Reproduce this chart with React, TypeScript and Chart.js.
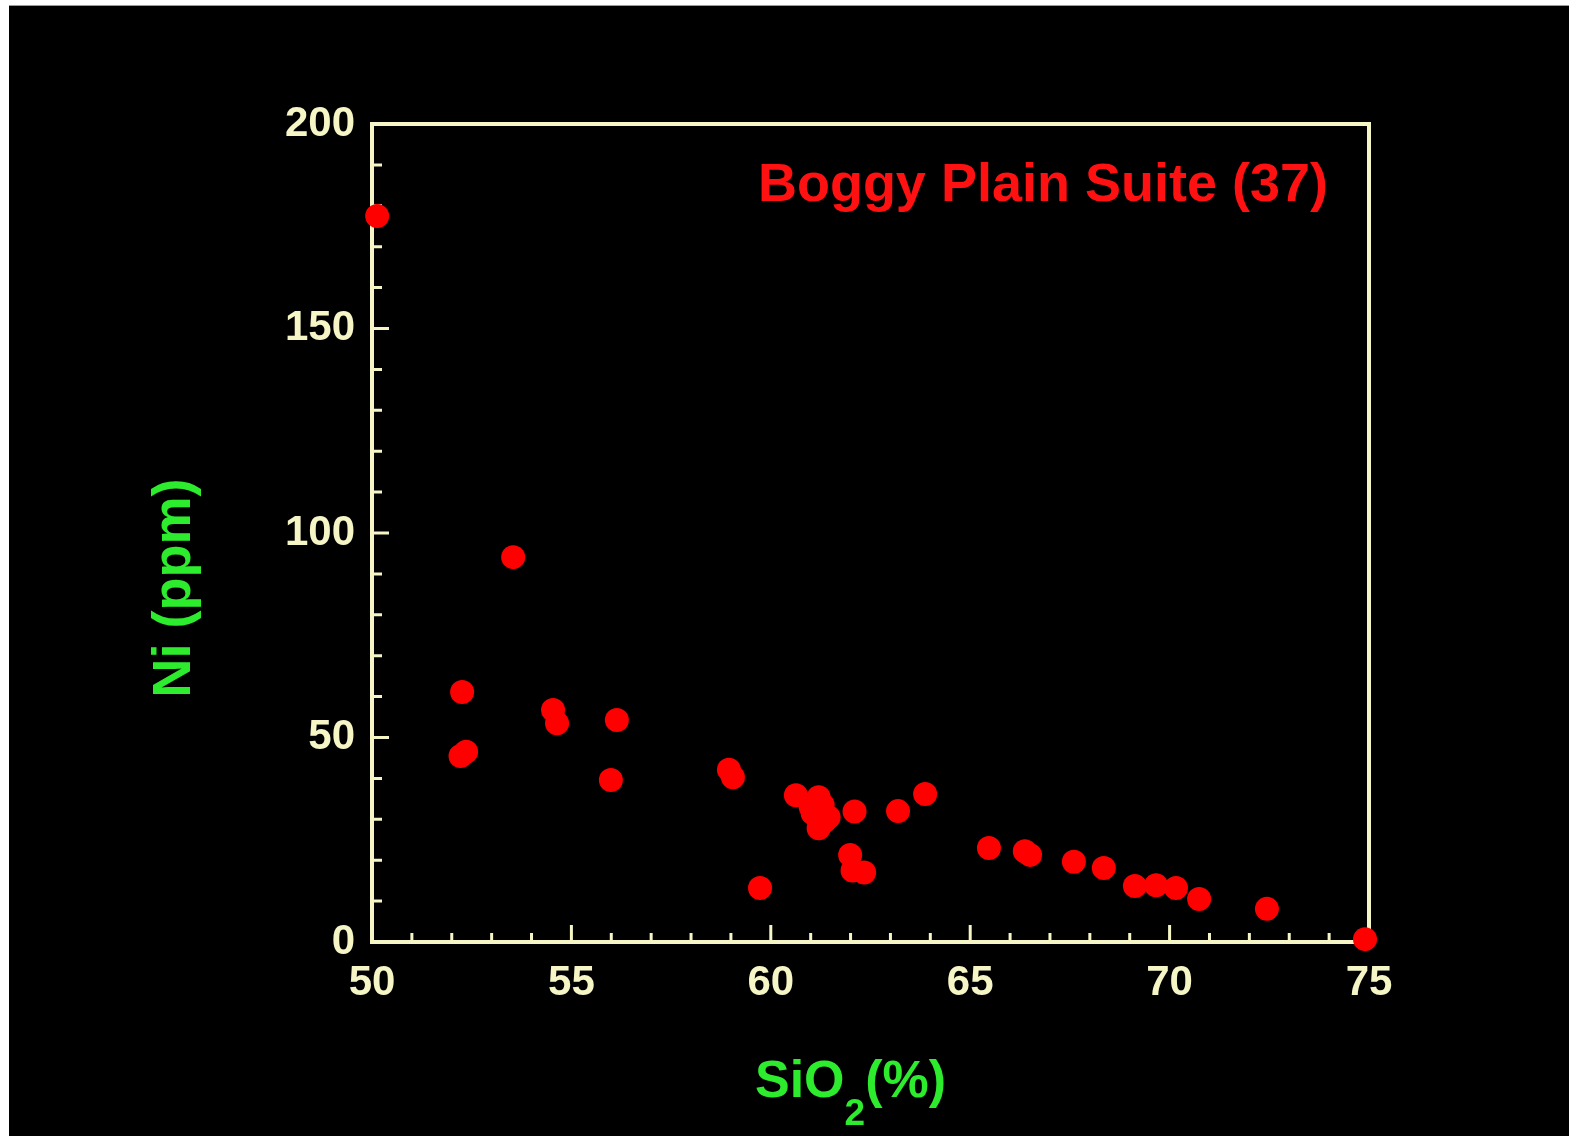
import React, { useEffect, useRef } from "react";
import { Chart, registerables } from "chart.js";

Chart.register(...registerables);

// SiO2 (%) values
const sio2: number[] = [
  50.13, 53.54, 52.26, 52.22, 52.36, 54.54, 54.64, 56.14, 55.99, 58.95,
  59.05, 59.73, 60.63, 61.2, 61.05, 61.45, 61.2, 61.3, 61.0, 61.35,
  62.1, 61.99, 62.05, 62.34, 63.19, 63.87, 65.47, 66.37, 66.5, 67.6,
  68.35, 69.13, 69.66, 70.16, 70.74, 72.44, 74.9,
];
// Ni (ppm) values
const ni: number[] = [
  177.5, 94.1, 61.1, 45.5, 46.5, 56.7, 53.5, 54.3, 39.6, 42.1,
  40.3, 13.2, 35.9, 35.4, 31.5, 30.5, 27.8, 33.5, 33.0, 29.5,
  31.9, 21.3, 17.5, 17.0, 32.0, 36.2, 23.0, 22.2, 21.3, 19.6,
  18.1, 13.7, 13.9, 13.2, 10.5, 8.1, 0.7,
];

const xTicks = { min: 50, max: 75, step: 5, minor: 1 };
const yTicks = { min: 0, max: 200, step: 50, minor: 10 };

const TITLE = "Boggy Plain Suite (37)";
const Y_TITLE = "Ni (ppm)";
const X_TITLE_PARTS = ["SiO", "2", "(%)"];

const CREAM = "rgb(245,245,198)";
const GREEN = "rgb(45,235,45)";
const RED = "#ff0000";
const FONT = "'Liberation Sans', Arial, sans-serif";

const framePlugin = {
  id: "frame",
  beforeDatasetsDraw(chart: any) {
    const { ctx, chartArea: a, scales } = chart;
    ctx.save();
    ctx.strokeStyle = CREAM;
    ctx.lineWidth = 4;
    ctx.strokeRect(a.left, a.top, a.right - a.left, a.bottom - a.top);
    ctx.lineWidth = 3;
    ctx.beginPath();
    for (let v = xTicks.min + xTicks.minor; v < xTicks.max; v += xTicks.minor) {
      const px = scales.x.getPixelForValue(v);
      const len = v % xTicks.step === 0 ? 17 : 9;
      ctx.moveTo(px, a.bottom);
      ctx.lineTo(px, a.bottom - len);
    }
    for (let v = yTicks.min + yTicks.minor; v < yTicks.max; v += yTicks.minor) {
      const py = scales.y.getPixelForValue(v);
      const len = v % yTicks.step === 0 ? 17 : 10;
      ctx.moveTo(a.left, py);
      ctx.lineTo(a.left + len, py);
    }
    ctx.stroke();
    ctx.restore();
  },
  afterDraw(chart: any) {
    const { ctx, chartArea: a } = chart;
    ctx.save();
    // Inner title
    ctx.fillStyle = "#ff1111";
    ctx.font = `bold 54px ${FONT}`;
    ctx.textAlign = "right";
    ctx.textBaseline = "alphabetic";
    ctx.fillText(TITLE, a.right - 41, a.top + 77);

    // X axis title with subscript
    ctx.fillStyle = GREEN;
    const big = `bold 52px ${FONT}`;
    const small = `bold 37px ${FONT}`;
    ctx.textAlign = "left";
    ctx.font = big;
    const w0 = ctx.measureText(X_TITLE_PARTS[0]).width;
    const w2 = ctx.measureText(X_TITLE_PARTS[2]).width;
    ctx.font = small;
    const w1 = ctx.measureText(X_TITLE_PARTS[1]).width;
    const total = w0 + w1 + w2;
    const cx = (a.left + a.right) / 2 - 20;
    let x = cx - total / 2;
    const base = a.bottom + 155;
    ctx.font = big;
    ctx.fillText(X_TITLE_PARTS[0], x, base);
    x += w0;
    ctx.font = small;
    ctx.fillText(X_TITLE_PARTS[1], x, base + 28);
    x += w1;
    ctx.font = big;
    ctx.fillText(X_TITLE_PARTS[2], x, base);

    // Y axis title
    ctx.translate(a.left - 182, (a.top + a.bottom) / 2 + 55);
    ctx.rotate(-Math.PI / 2);
    ctx.font = `bold 54px ${FONT}`;
    ctx.textAlign = "center";
    ctx.textBaseline = "alphabetic";
    ctx.fillText(Y_TITLE, 0, 0);
    ctx.restore();
  },
};

export default function App() {
  const ref = useRef<HTMLCanvasElement | null>(null);
  useEffect(() => {
    document.body.style.overflow = "hidden";
    const canvas = ref.current!;
    const chart = new Chart(canvas, {
      type: "scatter",
      data: {
        datasets: [
          {
            data: sio2.map((v, i) => ({ x: v, y: ni[i] })),
            backgroundColor: RED,
            borderWidth: 0,
            pointRadius: 12,
            pointHoverRadius: 12,
            clip: false as any,
          },
        ],
      },
      options: {
        animation: false,
        responsive: false,
        events: [],
        layout: { padding: { left: 0, top: 124, right: 200, bottom: 0 } },
        plugins: { legend: { display: false }, tooltip: { enabled: false }, title: { display: false } },
        scales: {
          x: {
            type: "linear",
            min: xTicks.min,
            max: xTicks.max,
            grid: { display: false, drawTicks: false },
            border: { display: false },
            ticks: {
              stepSize: xTicks.step,
              color: CREAM,
              padding: 16,
              font: { family: FONT, size: 42, weight: "bold" },
              maxRotation: 0,
            },
            afterFit(scale: any) {
              scale.height = 194;
            },
          },
          y: {
            type: "linear",
            min: yTicks.min,
            max: yTicks.max,
            grid: { display: false, drawTicks: false },
            border: { display: false },
            ticks: {
              stepSize: yTicks.step,
              color: CREAM,
              padding: 17,
              font: { family: FONT, size: 42, weight: "bold" },
            },
            afterFit(scale: any) {
              scale.width = 372;
            },
          },
        },
      },
      plugins: [framePlugin],
    });
    return () => chart.destroy();
  }, []);

  return (
    <>
      <div
        style={{
          position: "absolute",
          left: 9,
          top: 5,
          width: 1560,
          height: 1131,
          background: "#000",
          borderTop: "1px solid #999",
          boxSizing: "border-box",
        }}
      />
      <canvas
        ref={ref}
        width={1569}
        height={1136}
        style={{ position: "absolute", left: 0, top: 0, width: 1569, height: 1136 }}
      />
    </>
  );
}
